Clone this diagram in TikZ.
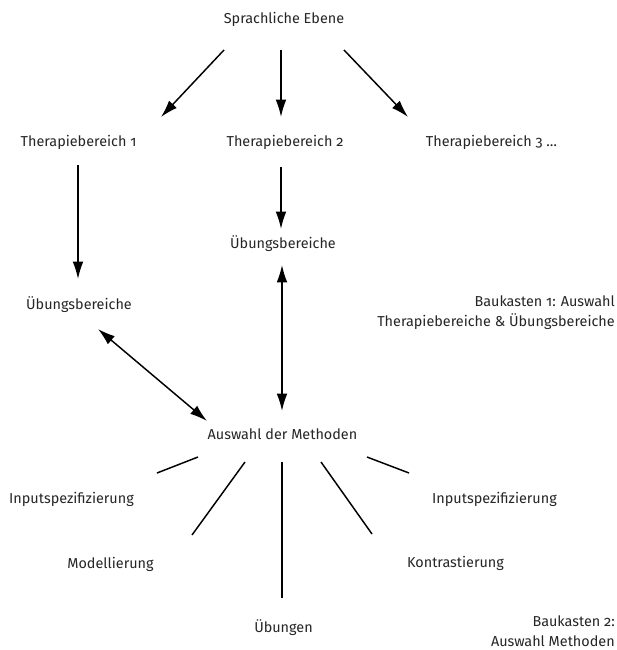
\documentclass[tikz,border=0pt]{standalone}
\usepackage{fontspec}
\setmainfont{Fira Sans}[Numbers=OldStyle]
\usetikzlibrary{arrows.meta}
\begin{document}
\begin{tikzpicture}[x=0.75pt,y=-0.75pt,
  lbl/.style={font=\fontsize{10.8}{12}\selectfont, inner sep=0pt, anchor=base, text=black!85},
  lblr/.style={lbl, anchor=base east},
  arr/.style={line width=1.1pt, -{Latex[length=13pt,width=8pt]}},
  darr/.style={line width=1.1pt, {Latex[length=13pt,width=8pt]}-{Latex[length=13pt,width=8pt]}},
  ray/.style={line width=1.1pt}]
\useasboundingbox[fill=white] (0,0) rectangle (617,650);
% labels
\node[lbl] (spr) at (284,23) {Sprachliche Ebene};
\node[lbl] (t1) at (78.5,146) {Therapiebereich 1};
\node[lbl] (t2) at (285,146) {Therapiebereich 2};
\node[lbl] (t3) at (491.5,146) {Therapiebereich 3 …};
\node[lbl] (ub2) at (283,248) {Übungsbereiche};
\node[lbl] (ub1) at (79,309) {Übungsbereiche};
\node[lblr] (bk1a) at (615,306) {Baukasten 1: Auswahl};
\node[lblr] (bk1b) at (615,326) {Therapiebereiche \& Übungsbereiche};
\node[lbl] (aus) at (282.5,439) {Auswahl der Methoden};
\node[lbl] (in1) at (71.5,503) {Inputspezifizierung};
\node[lbl] (in2) at (494.5,503) {Inputspezifizierung};
\node[lbl] (mod) at (110.5,568) {Modellierung};
\node[lbl] (kon) at (455.5,567) {Kontrastierung};
\node[lbl] (ueb) at (283.5,632) {Übungen};
\node[lblr] (bk2a) at (615,626) {Baukasten 2:};
\node[lblr] (bk2b) at (615,646) {Auswahl Methoden};
% connector end points
\coordinate (s1) at (224,50);  \coordinate (e1) at (161,117);
\coordinate (s2) at (281,50);  \coordinate (e2) at (281,117);
\coordinate (s3) at (344,50);  \coordinate (e3) at (408,117);
\coordinate (s4) at (78,165);  \coordinate (e4) at (78,279);
\coordinate (s5) at (281,167); \coordinate (e5) at (281,229);
\coordinate (s6) at (282,265); \coordinate (e6) at (282,411);
\coordinate (s7) at (98,329);  \coordinate (e7) at (207,421);
\draw[arr] (s1) -- (e1);
\draw[arr] (s2) -- (e2);
\draw[arr] (s3) -- (e3);
\draw[arr] (s4) -- (e4);
\draw[arr] (s5) -- (e5);
\draw[darr] (s6) -- (e6);
\draw[darr] (s7) -- (e7);
% rays
\coordinate (r1a) at (198,457); \coordinate (r1b) at (157,473);
\coordinate (r2a) at (245,462); \coordinate (r2b) at (192,535);
\coordinate (r3a) at (282,462); \coordinate (r3b) at (282,598);
\coordinate (r4a) at (321,462); \coordinate (r4b) at (372,534);
\coordinate (r5a) at (367,457); \coordinate (r5b) at (409,473);
\draw[ray] (r1a) -- (r1b);
\draw[ray] (r2a) -- (r2b);
\draw[ray] (r3a) -- (r3b);
\draw[ray] (r4a) -- (r4b);
\draw[ray] (r5a) -- (r5b);
\end{tikzpicture}
\end{document}
